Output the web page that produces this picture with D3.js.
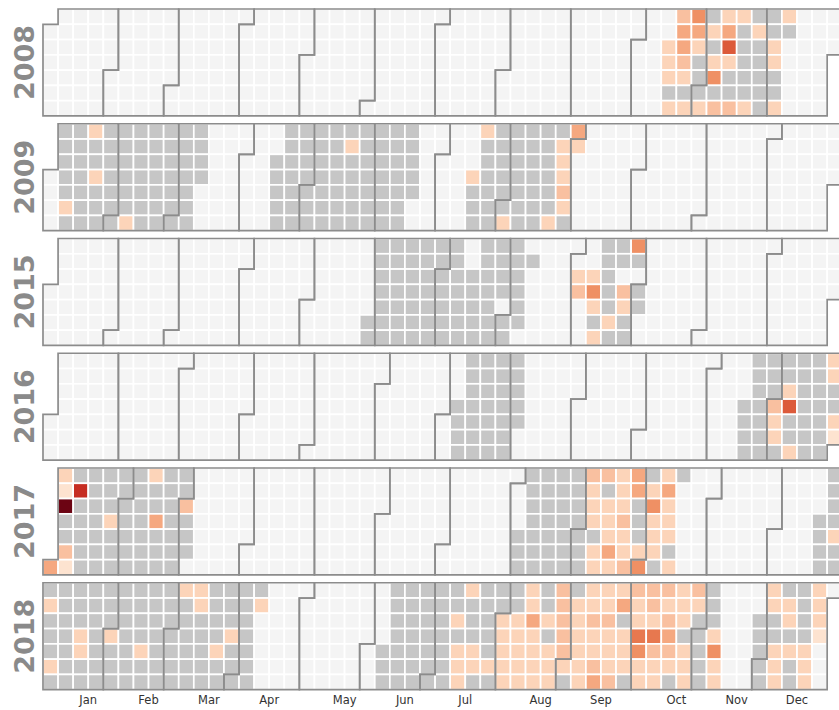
<!DOCTYPE html>
<html>
<head>
<meta charset="utf-8">
<script src="https://cdn.jsdelivr.net/npm/d3@7"></script>
<style>
  body { margin: 0; background: #fff; }
</style>
</head>
<body>
<script>
// Daily values. Each run starts on a Monday and each
// 7-char chunk is one week, Mon..Sun. "." = no data, 0 = zero, 1-9 = level.
var years = [2008, 2009, 2015, 2016, 2017, 2018];
var monthNames = ["Jan", "Feb", "Mar", "Apr", "May", "Jun", "Jul", "Aug", "Sep", "Oct", "Nov", "Dec"];

var runs2008 = [
  ["2008-10-13", "..22202 3443202 5420002 0202503 2472003 2000002 0200000 0022002 20"]
];
var runs2009 = [
  ["2009-01-05", "0000020 0000000 2002000 0000000 0000002 0000000 0000000 0000000 0000000 0000..."],
  ["2009-04-13", "..00000 0000000 0000000 0000000 0000000 0200000 0000000 0000000 0000000 00000.."],
  ["2009-07-13", "...2000 2000000 0000002 0000000 0000000 0000002 0222320 42"]
];
var runs2015 = [
  ["2015-05-25", ".....00 0000000 0000000 0000000 0000000 0000000 0000000 ..00000 0000000 0000.00 000000. .0....."],
  ["2015-08-31", "..23... ..25202 0000020 00.3200 50.00"]
];
var runs2016 = [
  ["2016-07-04", "...0000 0000000 0000000 0000000 00000.."],
  ["2016-11-14", "...0000 0000000 0003220 0027002 0000000 0000000 220021"]
];
var runs2017 = [
  ["2016-12-26", "......4 2190031 0800000 0000000 0002000 0000000 0000000 2004000 0000000 003000."],
  ["2017-07-31", "....000 0000000 0000000 0000000 0000000 3222022 3022242 2223223 4400025 0252220 2422202 0"],
  ["2017-12-18", "...0000 0000200"]
];
var runs2018 = [
  ["2018-01-01", "0200020 0000000 0002200 0000000 0002000 0000000 0000200 0000000 0000000 2000000 2200000 0000200 0002000 0000000 02"],
  ["2018-06-04", "....000 0000000 0000000 0000000 0000000 0020222 2000220 0000020 0022222 0022222 2242222 0020222 3333320 0222222 2232234 2232223 2402220 3226522 3326322 3234320 2220222 3200000 0002522"],
  ["2018-11-26", "..00000 2200222 0220200 0000222 2221"]
];

var levelColors = ["#fde3d0", "#fcd4b9", "#f9c0a0", "#f5a880", "#ef9064", "#e7784f", "#dc5a3a", "#c62d22", "#6c0413"];

var parse = d3.timeParse("%Y-%m-%d"), key = d3.timeFormat("%Y-%m-%d");
var values = new Map();
[runs2008, runs2009, runs2015, runs2016, runs2017, runs2018].forEach(function(runs) {
  runs.forEach(function(r) {
    var t0 = parse(r[0]);
    r[1].replace(/ /g, "").split("").forEach(function(ch, i) {
      if (ch !== ".") values.set(key(d3.timeDay.offset(t0, i)), +ch);
    });
  });
});

var width = 839, height = 710;
var cellW = 15.08, cellH = 15.28;

var svg = d3.select("body").append("svg")
  .attr("width", width)
  .attr("height", height);

var x = d3.scaleLinear().domain([0, 53]).range([43, 43 + 53 * cellW]);
var y = d3.scaleLinear().domain([0, 7]).range([0, 7 * cellH]);
var yearTop = d3.scaleLinear().domain([0, 1]).range([9, 123.75]);
var color = d3.scaleLinear().domain(d3.range(1, 10)).range(levelColors);

function col(d) { return d3.timeMonday.count(d3.timeYear(d), d); }
function row(d) { return (d.getDay() + 6) % 7; }

function monthPath(t0) {
  var t1 = new Date(t0.getFullYear(), t0.getMonth() + 1, 0);
  var d0 = row(t0), w0 = col(t0), d1 = row(t1), w1 = col(t1);
  return "M" + x(w0 + 1) + "," + y(d0) +
    "H" + x(w0) + "V" + y(7) +
    "H" + x(w1) + "V" + y(d1 + 1) +
    "H" + x(w1 + 1) + "V" + y(0) +
    "H" + x(w0 + 1) + "Z";
}

years.forEach(function(year, i) {
  var g = svg.append("g")
    .attr("transform", "translate(0," + yearTop(i) + ")");

  var days = d3.timeDays(new Date(year, 0, 1), new Date(year + 1, 0, 1));

  g.selectAll("rect")
    .data(days)
    .enter().append("rect")
      .attr("x", function(d) { return x(col(d)); })
      .attr("y", function(d) { return y(row(d)); })
      .attr("width", cellW)
      .attr("height", cellH)
      .attr("fill", function(d) {
        var v = values.get(key(d));
        if (v === undefined) return "#f4f4f4";
        if (v === 0) return "#c6c6c6";
        return color(v);
      })
      .attr("stroke", "#fff")
      .attr("stroke-width", 1.7);

  g.selectAll("path.month")
    .data(d3.timeMonths(new Date(year, 0, 1), new Date(year + 1, 0, 1)))
    .enter().append("path")
      .attr("class", "month")
      .attr("d", monthPath)
      .attr("fill", "none")
      .attr("stroke", "#8c8c8c")
      .attr("stroke-width", 1.7);

  g.append("text")
    .attr("transform", "translate(24," + y(3.5) + ") rotate(-90)")
    .attr("text-anchor", "middle")
    .attr("dy", "0.36em")
    .style("font-family", "DejaVu Sans")
    .style("font-weight", "bold")
    .style("font-size", "27px")
    .style("fill", "#8a8a8a")
    .text(year);

  if (i === years.length - 1) {
    var iso = d3.timeFormat("%V");
    g.selectAll("text.mlabel")
      .data(d3.range(12))
      .enter().append("text")
        .attr("class", "mlabel")
        .attr("x", function(m) { return x(+iso(new Date(year, m, 15))); })
        .attr("y", y(7) + 14)
        .attr("text-anchor", "middle")
        .style("font-family", "DejaVu Sans")
        .style("font-size", "11.5px")
        .style("fill", "#333")
        .text(function(m) { return monthNames[m]; });
  }
});
</script>
</body>
</html>
